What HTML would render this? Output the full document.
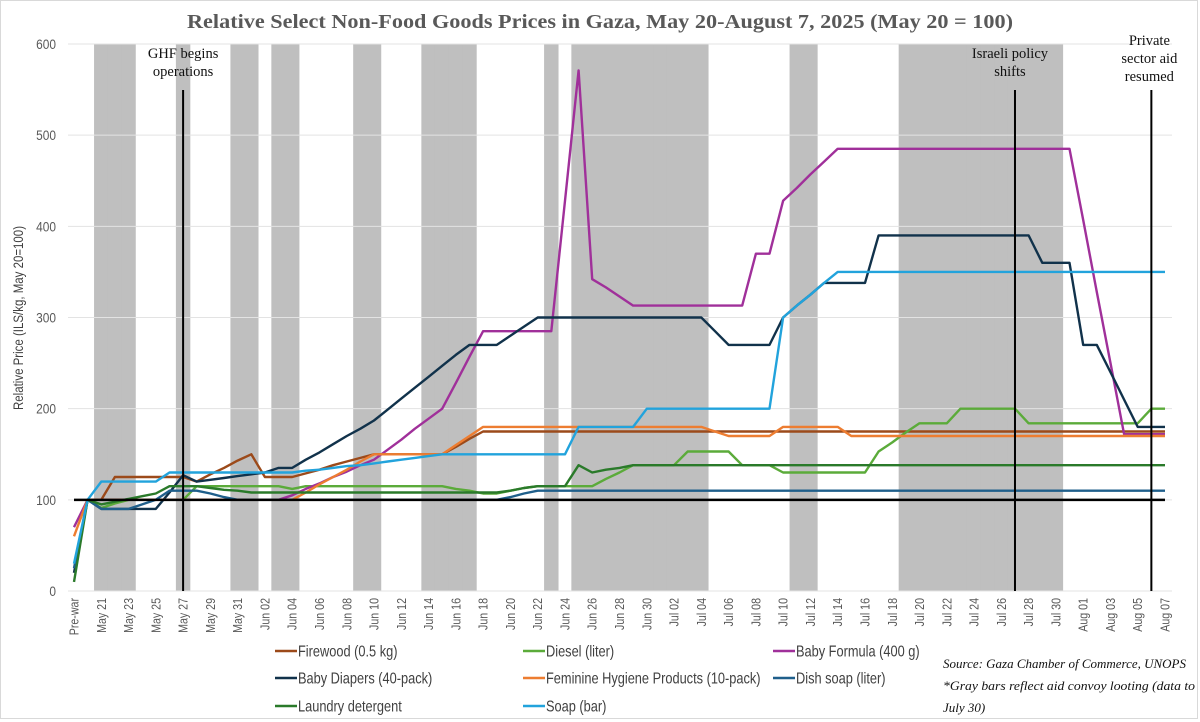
<!DOCTYPE html>
<html><head><meta charset="utf-8"><style>
body{margin:0;background:#fff;}
#wrap{position:relative;width:1200px;height:722px;overflow:hidden;background:#fff;}
svg text{font-family:"Liberation Sans Narrow","Liberation Sans",sans-serif;}
</style></head><body>
<div id="wrap">
<svg id="chart" width="1200" height="722" xmlns="http://www.w3.org/2000/svg">
<rect x="0.5" y="0.5" width="1197" height="718" fill="#fff" stroke="#d9d9d9"/>
<text x="600" y="28" text-anchor="middle" font-size="19.5" font-weight="bold" fill="#595959" textLength="826" lengthAdjust="spacingAndGlyphs" style="font-family:'Liberation Serif',serif">Relative Select Non-Food Goods Prices in Gaza, May 20-August 7, 2025 (May 20 = 100)</text>
<text transform="translate(23,318) rotate(-90) scale(0.82,1)" text-anchor="middle" font-size="14" fill="#404040">Relative Price (ILS/kg, May 20=100)</text>
<g id="bands"></g><g id="grid"></g><g id="series"></g><g id="events"></g><g id="xticks"></g><g id="yticks"></g><g id="legend"></g>
<g style="font-family:'Liberation Serif',serif" font-style="italic" font-size="13" fill="#111">
<text x="943" y="668" textLength="243" lengthAdjust="spacingAndGlyphs" style="font-family:'Liberation Serif',serif">Source: Gaza Chamber of Commerce, UNOPS</text>
<text x="943" y="690" textLength="252" lengthAdjust="spacingAndGlyphs" style="font-family:'Liberation Serif',serif">*Gray bars reflect aid convoy looting (data to</text>
<text x="943" y="712" style="font-family:'Liberation Serif',serif">July 30)</text>
</g>
</svg>
</div>
<script>
const yTicks=[0,100,200,300,400,500,600];
const bandIdx=[2,3,4,8,12,13,15,16,21,22,26,27,28,29,35,37,38,39,40,41,42,43,44,45,46,53,54,61,62,63,64,65,66,67,68,69,70,71,72];
const eventIdx=[8,69,79];
const eventLabels=[["GHF begins","operations"],["Israeli policy","shifts"],["Private","sector aid","resumed"]];
const firewood=[null,100,100,125,125,125,125,125,125,120,128,135,143,150,125,125,125,129,133,138,142,146,150,150,150,150,150,150,158,167,175,175,175,175,175,175,175,175,175,175,175,175,175,175,175,175,175,175,175,175,175,175,175,175,175,175,175,175,175,175,175,175,175,175,175,175,175,175,175,175,175,175,175,175,175,175,175,175,175,175,175];
const diesel=[null,100,91,96,100,100,100,100,100,115,115,115,115,115,115,115,112,115,115,115,115,115,115,115,115,115,115,115,112,110,107,107,110,113,115,115,115,115,115,123,130,138,138,138,138,153,153,153,153,138,138,138,130,130,130,130,130,130,130,153,163,174,184,184,184,200,200,200,200,200,184,184,184,184,184,184,184,184,184,200,200];
const laundry=[10,100,95,98,101,104,107,115,115,115,113,111,110,108,108,108,108,108,108,108,108,108,108,108,108,108,108,108,108,108,108,108,110,113,115,115,115,138,130,133,135,138,138,138,138,138,138,138,138,138,138,138,138,138,138,138,138,138,138,138,138,138,138,138,138,138,138,138,138,138,138,138,138,138,138,138,138,138,138,138,138];
const formula=[70,100,100,100,100,100,100,100,100,100,100,100,100,100,100,100,105,112,118,125,131,138,144,155,166,178,189,200,228,257,285,285,285,285,285,285,428,571,342,333,323,313,313,313,313,313,313,313,313,313,370,370,428,442,457,471,485,485,485,485,485,485,485,485,485,485,485,485,485,485,485,485,485,485,407,328,250,172,172,172,172];
const diapers=[20,100,90,90,90,90,90,108,127,120,122,124,126,128,130,135,135,144,152,161,170,178,187,199,211,223,235,247,259,270,270,270,280,290,300,300,300,300,300,300,300,300,300,300,300,300,300,285,270,270,270,270,300,313,325,338,338,338,338,390,390,390,390,390,390,390,390,390,390,390,390,360,360,360,270,270,240,210,180,180,180];
const feminine=[60,100,100,100,100,100,100,100,100,100,100,100,100,100,100,100,100,108,117,125,133,142,150,150,150,150,150,150,160,170,180,180,180,180,180,180,180,180,180,180,180,180,180,180,180,180,180,175,170,170,170,170,180,180,180,180,180,170,170,170,170,170,170,170,170,170,170,170,170,170,170,170,170,170,170,170,170,170,170,170,170];
const dishSoap=[25,100,90,90,90,95,100,110,110,110,107,103,100,100,100,100,100,100,100,100,100,100,100,100,100,100,100,100,100,100,100,100,103,107,110,110,110,110,110,110,110,110,110,110,110,110,110,110,110,110,110,110,110,110,110,110,110,110,110,110,110,110,110,110,110,110,110,110,110,110,110,110,110,110,110,110,110,110,110,110,110];
const soap=[30,100,120,120,120,120,120,130,130,130,130,130,130,130,130,130,130,132,133,135,137,138,140,142,144,146,148,150,150,150,150,150,150,150,150,150,150,180,180,180,180,180,200,200,200,200,200,200,200,200,200,200,300,313,325,338,350,350,350,350,350,350,350,350,350,350,350,350,350,350,350,350,350,350,350,350,350,350,350,350,350];

const NS="http://www.w3.org/2000/svg";
const mon=["May","Jun","Jul","Aug"],mlen=[31,30,31,31];
const cats=["Pre-war"];
{let m=0,d=20;for(let i=1;i<=80;i++){cats.push(mon[m]+" "+String(d).padStart(2,"0"));d++;if(d>mlen[m]){d=1;m++;}}}
const x0=74,dx=(1165-74)/80,yBase=591,yTop=44;
const X=i=>x0+i*dx;
const Y=v=>yBase-(v/600)*(yBase-yTop);
function mk(tag,attrs,parent){const e=document.createElementNS(NS,tag);for(const k in attrs)e.setAttribute(k,attrs[k]);parent.appendChild(e);return e;}
const gB=document.getElementById("bands"),gG=document.getElementById("grid"),gS=document.getElementById("series"),gE=document.getElementById("events"),gX=document.getElementById("xticks"),gY=document.getElementById("yticks"),gL=document.getElementById("legend");
bandIdx.forEach(i=>{const r=mk("rect",{x:X(i)-dx/2-0.4,y:yTop,width:dx+0.8,height:yBase-yTop,fill:"#bfbfbf"},gB);

});
yTicks.forEach(v=>{const l=mk("line",{x1:68,x2:1172,y1:Y(v),y2:Y(v),stroke:"#e3e3e3","stroke-width":1},gG);


const t=mk("text",{transform:"translate(56,"+(Y(v)+5)+") scale(0.85,1)","text-anchor":"end","font-size":14,fill:"#595959"},gY);t.textContent=v;

});
const series=[["firewood",firewood,"#9c4a1a"],["diesel",diesel,"#5bab3a"],["baby-formula",formula,"#a0309a"],["baby-diapers",diapers,"#11324b"],["feminine-hygiene",feminine,"#ed7d31"],["dish-soap",dishSoap,"#1f5f8b"],["laundry-detergent",laundry,"#2a7a2a"],["soap",soap,"#22a3dc"]];
series.forEach(([n,arr,c])=>{let d="",pen=false;arr.forEach((v,i)=>{if(v==null){pen=false;return;}d+=(pen?"L":"M")+X(i).toFixed(1)+","+Y(v).toFixed(1);pen=true;});
const p=mk("path",{d:d,fill:"none",stroke:c,"stroke-width":2.4,"stroke-linejoin":"round"},gS);

});
const base=mk("line",{x1:X(0),x2:X(80),y1:Y(100),y2:Y(100),stroke:"#000","stroke-width":2.5},gE);


eventIdx.forEach((i,k)=>{const l=mk("line",{x1:X(i),x2:X(i),y1:90,y2:yBase,stroke:"#000","stroke-width":2},gE);


const lines=eventLabels[k];const start=lines.length===3?45:58;const cx=k===1?X(i)-5:(k===2?X(i)-2:X(i));
lines.forEach((s,j)=>{const t=mk("text",{x:cx,y:start+j*18,"text-anchor":"middle","font-size":14.5,fill:"#111",style:"font-family:'Liberation Serif',serif"},gE);t.textContent=s;

});});
cats.forEach((c,i)=>{if(i%2!==0)return;const t=mk("text",{transform:"translate("+(X(i)+4.5)+",598) rotate(-90) scale(0.82,1)","text-anchor":"end","font-size":13,fill:"#595959"},gX);t.textContent=c;

});
const legendPos=[[275,651],[523,651],[773,651],[275,678],[523,678],[773,678],[275,706],[523,706]];
const legendNames=["Firewood (0.5 kg)","Diesel (liter)","Baby Formula (400 g)","Baby Diapers (40-pack)","Feminine Hygiene Products (10-pack)","Dish soap (liter)","Laundry detergent","Soap (bar)"];
const legendOrder=[0,1,2,3,4,5,6,7];
legendOrder.forEach((si,k)=>{const [lx,ly]=legendPos[k];const s=series[si];
const g=mk("g",{},gL);


mk("line",{x1:lx,x2:lx+22,y1:ly,y2:ly,stroke:s[2],"stroke-width":2.5},g);
const t=mk("text",{transform:"translate("+(lx+23)+","+(ly+5.5)+") scale(0.8,1)","font-size":16,fill:"#404040"},g);t.textContent=legendNames[k];});
</script>
</body></html>
